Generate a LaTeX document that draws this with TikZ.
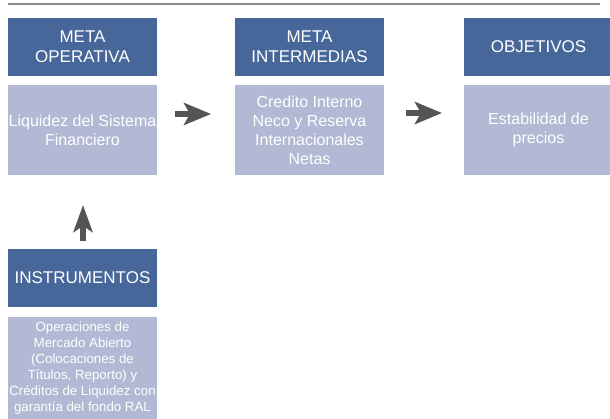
\documentclass[tikz,border=0pt]{standalone}
\usepackage{fontspec}
\setmainfont{Liberation Sans}
\usetikzlibrary{arrows.meta}
\definecolor{headblue}{RGB}{71,103,154}
\definecolor{bodyblue}{RGB}{177,185,212}
\definecolor{arrowgray}{RGB}{85,85,85}
\newcommand\DrawColumn[4]{
	\node [head] (#1Head) at (#2+74.5,47) {#3};
	\node [body] (#1Body) at (#2+74.5,130) {#4};
}
\newcommand*{\xLeft}{8}
\newcommand*{\xRight}{600}

\begin{document}
\begin{tikzpicture}[x=1pt, y=-1pt,
	every node/.style={rectangle, inner sep=0pt, outer sep=0pt, text=white, align=center, minimum width=149},
	head/.style={fill=headblue, minimum height=58, font=\fontsize{17}{20}\selectfont},
	body/.style={fill=bodyblue, minimum height=90, font=\fontsize{16}{19}\selectfont},
	bigarrow/.style={draw=arrowgray, line width=6pt, -{Stealth[length=27pt, width=22pt, inset=6pt]}}]
	\useasboundingbox (0,0) rectangle (610,419);
	\draw [color=black!45, line width=2pt] (\xLeft,4) -- (\xRight,4);
	\DrawColumn{op}{8}{META\\OPERATIVA}{Liquidez del Sistema\\Financiero}
	\DrawColumn{mid}{235}{META\\INTERMEDIAS}{Credito Interno\\Neco y Reserva\\Internacionales\\Netas}
	\DrawColumn{obj}{464}{OBJETIVOS}{Estabilidad de\\precios}
	\node [head] (instHead) at (82.5,278) {INSTRUMENTOS};
	\node [body, minimum height=102, font=\fontsize{13.3}{16}\selectfont] (instBody) at (82.5,368) {Operaciones de\\Mercado Abierto\\(Colocaciones de\\Títulos, Reporto) y\\Créditos de Liquidez con\\garantía del fondo RAL};
%	arrows
	\coordinate (arrowOneS) at (175,114);
	\coordinate (arrowOneE) at (211,114);
	\coordinate (arrowTwoS) at (406,113);
	\coordinate (arrowTwoE) at (442,113);
	\coordinate (arrowUpS) at (83,241);
	\coordinate (arrowUpE) at (83,205);
	\path [bigarrow] (arrowOneS) -- (arrowOneE);
	\path [bigarrow] (arrowTwoS) -- (arrowTwoE);
	\path [bigarrow, -{Stealth[length=27pt, width=19pt, inset=6pt]}] (arrowUpS) -- (arrowUpE);
\end{tikzpicture}
\end{document}
